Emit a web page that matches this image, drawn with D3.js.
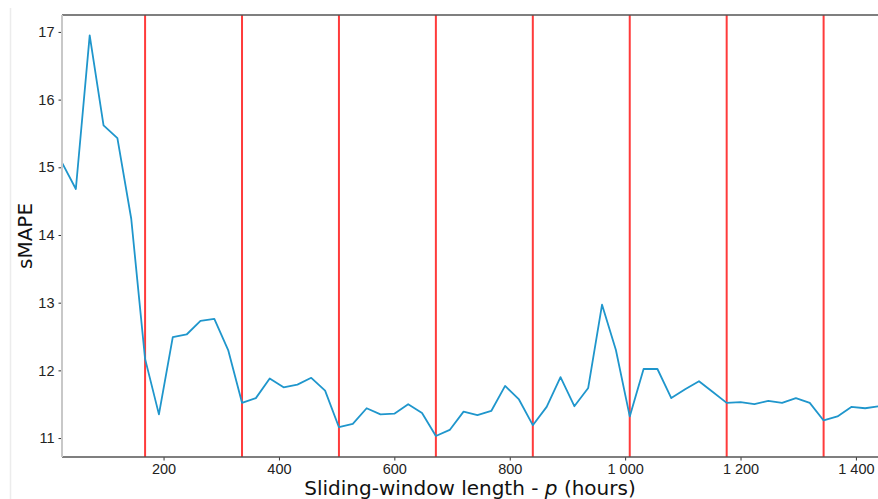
<!DOCTYPE html>
<html>
<head>
<meta charset="utf-8">
<script src="https://cdn.jsdelivr.net/npm/d3@7"></script>
<style>
  body { margin: 0; background: #fff; }
  svg { display: block; font-family: "DejaVu Sans", sans-serif; }
</style>
</head>
<body>
<svg id="chart"></svg>
<script>
// sliding-window lengths (hours), one point per day
const hours = d3.range(24, 1441, 24);
// sMAPE
const smape = [
  15.07, 14.68, 16.95, 15.62, 15.43, 14.24, 12.17, 11.35, 12.49, 12.53,
  12.73, 12.76, 12.30, 11.52, 11.59, 11.88, 11.75, 11.79, 11.89, 11.70,
  11.16, 11.21, 11.44, 11.35, 11.36, 11.50, 11.37, 11.03, 11.12, 11.39,
  11.34, 11.40, 11.77, 11.57, 11.19, 11.46, 11.90, 11.47, 11.74, 12.97,
  12.30, 11.32, 12.02, 12.02, 11.59, 11.72, 11.84, 11.68, 11.52, 11.53,
  11.50, 11.55, 11.52, 11.59, 11.52, 11.26, 11.32, 11.46, 11.44, 11.47
];
// weekly markers
const weeks = [168, 336, 504, 672, 840, 1008, 1176, 1344];
const xTicks = [200, 400, 600, 800, 1000, 1200, 1400];
const yTicks = [11, 12, 13, 14, 15, 16, 17];

const data = hours.map((h, i) => ({ h: h, v: smape[i] }));

const W = 878, H = 499;
const margin = { top: 15, left: 62, bottom: 42, right: -1 };
const width = W - margin.left - margin.right;
const height = H - margin.top - margin.bottom;

const svg = d3.select('#chart').attr('width', W).attr('height', H);

// faint border of the original figure
svg.append('line')
  .attr('x1', 10.5).attr('x2', 10.5).attr('y1', 8).attr('y2', H)
  .attr('stroke', '#ececec').attr('stroke-width', 1.5);

const x = d3.scaleLinear().domain([24, 1440]).range([0, width]);
const y = d3.scaleLinear().domain([10.72, 17.25]).range([height, 0]);

const fr = d3.formatLocale({ decimal: ',', thousands: '\u00a0', grouping: [3], currency: ['', ' €'] });
const fmt = fr.format(',d');

const g = svg.append('g').attr('transform', `translate(${margin.left},${margin.top})`);

const xAxis = d3.axisBottom(x).tickValues(xTicks).tickFormat(fmt).tickSize(3.5).tickPadding(3);
const yAxis = d3.axisLeft(y).tickValues(yTicks).tickFormat(d3.format('d')).tickSize(3.5).tickPadding(4);

const xg = g.append('g').attr('transform', `translate(0,${height})`).call(xAxis);
const yg = g.append('g').call(yAxis);
[xg, yg].forEach(a => {
  a.select('.domain').remove();
  a.selectAll('.tick line').attr('stroke', '#333').attr('stroke-width', 1);
  a.selectAll('.tick text').attr('fill', '#222').style('font-size', '14.5px');
});

// red weekly lines
g.selectAll('.week').data(weeks).join('line')
  .attr('class', 'week')
  .attr('x1', d => x(d)).attr('x2', d => x(d))
  .attr('y1', 0).attr('y2', height)
  .attr('stroke', '#ff3b3b').attr('stroke-width', 2);

// series
g.append('path').datum(data)
  .attr('fill', 'none')
  .attr('stroke', '#1f96cc')
  .attr('stroke-width', 1.8)
  .attr('stroke-linejoin', 'round')
  .attr('d', d3.line().x(d => x(d.h)).y(d => y(d.v)));

// spines
g.append('line').attr('x1', 0).attr('x2', W).attr('y1', 0).attr('y2', 0)
  .attr('stroke', '#555').attr('stroke-width', 1.6);
g.append('line').attr('x1', 0).attr('x2', W).attr('y1', height).attr('y2', height)
  .attr('stroke', '#555').attr('stroke-width', 1.6);
g.append('line').attr('x1', 0).attr('x2', 0).attr('y1', 0).attr('y2', height)
  .attr('stroke', '#c8c8c8').attr('stroke-width', 2);

// axis titles
const xt = svg.append('text')
  .attr('x', 470).attr('y', 495)
  .attr('text-anchor', 'middle')
  .attr('fill', '#111')
  .style('font-size', '20px');
xt.append('tspan').text('Sliding-window length - ');
xt.append('tspan').style('font-style', 'italic').text('p');
xt.append('tspan').text(' (hours)');

svg.append('text')
  .attr('transform', `translate(32,${margin.top + height / 2}) rotate(-90)`)
  .attr('text-anchor', 'middle')
  .attr('fill', '#111')
  .style('font-size', '20px')
  .text('sMAPE');
</script>
</body>
</html>
